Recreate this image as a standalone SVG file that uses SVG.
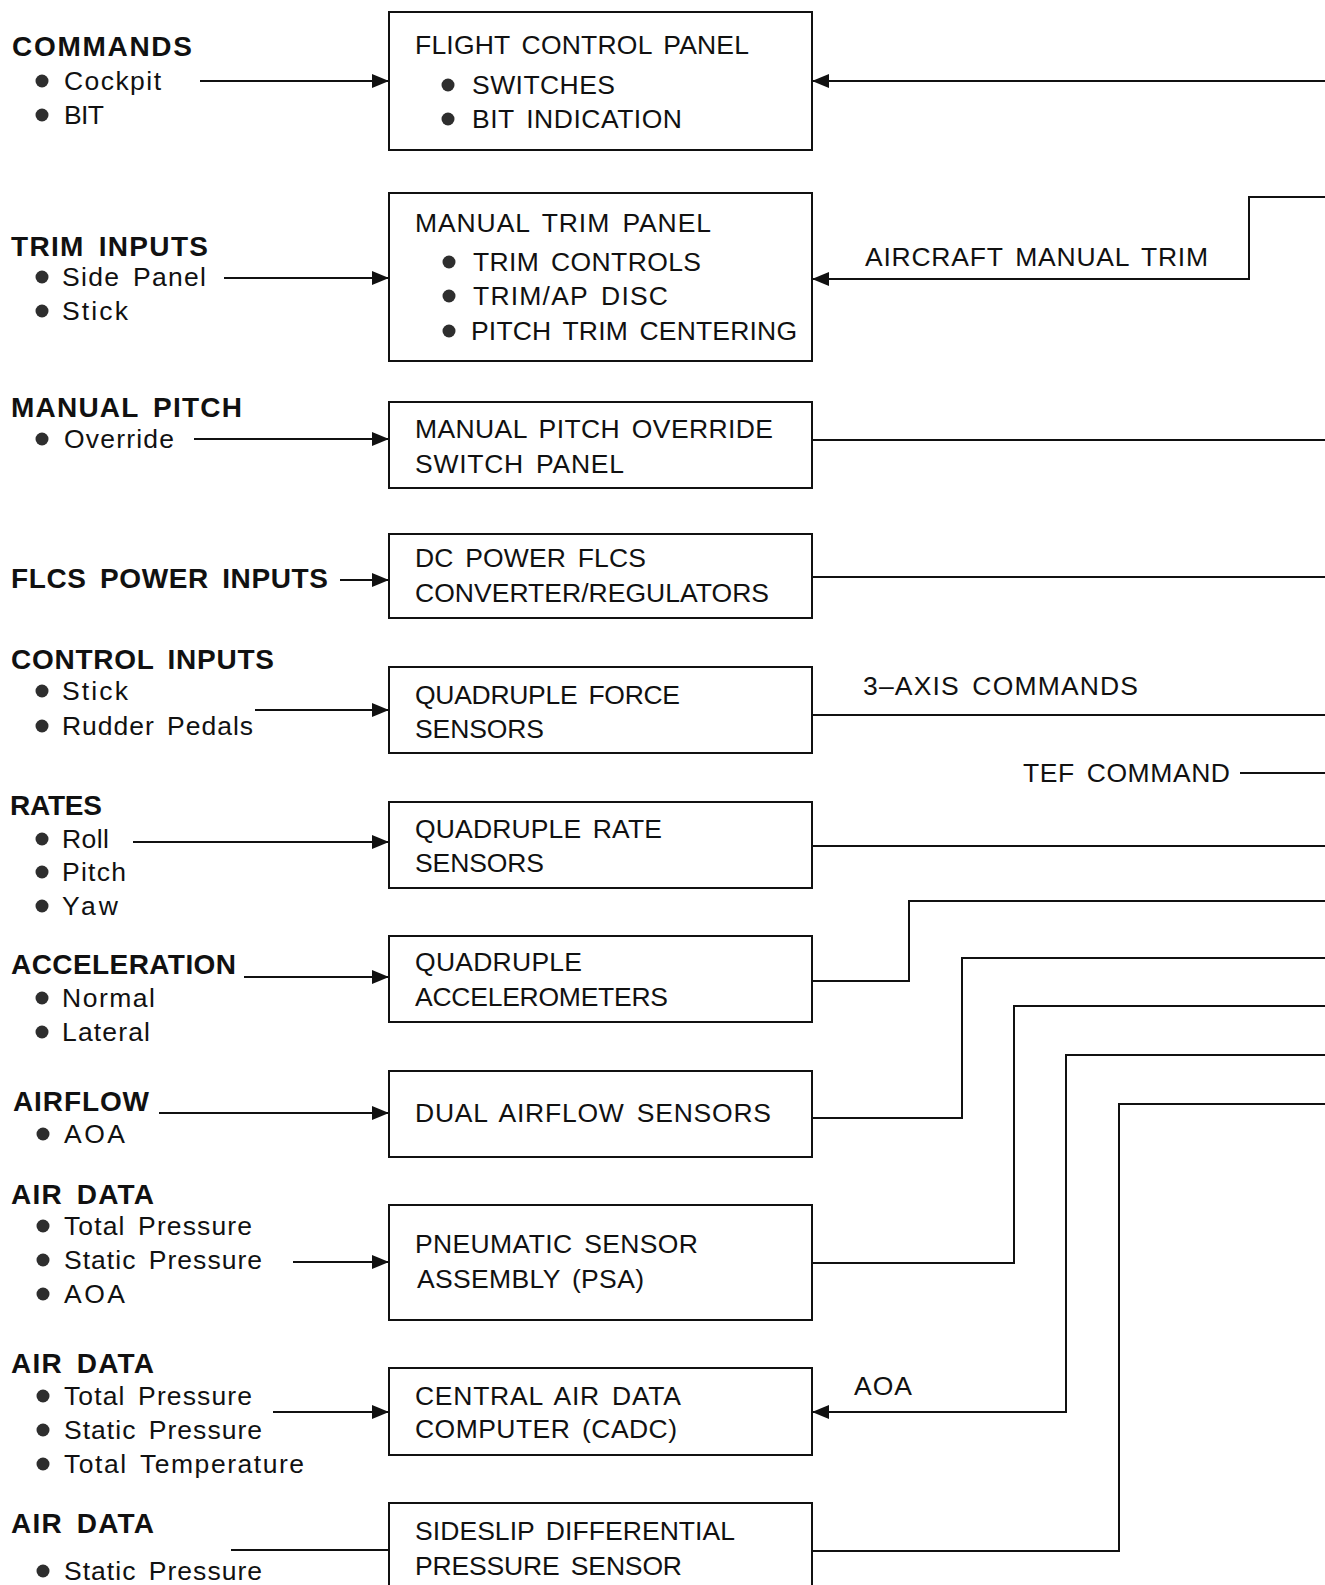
<svg xmlns="http://www.w3.org/2000/svg" width="1325" height="1585" viewBox="0 0 1325 1585">
<style>
text{font-family:"Liberation Sans",Arial,Helvetica,sans-serif;font-size:26.5px;word-spacing:4px;fill:#111}
.h{font-weight:bold;font-size:28px;word-spacing:5px}
.box{fill:#fff;stroke:#111;stroke-width:2}
.ln{fill:none;stroke:#111;stroke-width:2}
.ar{marker-end:url(#ah)}
.b{fill:#2e2e2e}
</style>
<defs>
<marker id="ah" markerUnits="userSpaceOnUse" markerWidth="18" markerHeight="16" refX="17" refY="7" orient="auto">
<path d="M0,0 L17,7 L0,14 z" fill="#111"/>
</marker>
</defs>
<rect width="1325" height="1585" fill="#fff"/>

<g id="connectors">
<path class="ln ar" d="M200,81 H389"/>
<path class="ln ar" d="M224,278 H389"/>
<path class="ln ar" d="M194,439 H389"/>
<path class="ln ar" d="M340,580 H389"/>
<path class="ln ar" d="M255,710 H389"/>
<path class="ln ar" d="M133,842 H389"/>
<path class="ln ar" d="M244,977 H389"/>
<path class="ln ar" d="M159,1113 H389"/>
<path class="ln ar" d="M293,1262 H389"/>
<path class="ln ar" d="M273,1412 H389"/>
<path class="ln" d="M231,1550 H389"/>

<path class="ln ar" d="M1325,81 H812"/>
<path class="ln ar" d="M1325,197 H1249 V279 H812"/>
<path class="ln" d="M812,440 H1325"/>
<path class="ln" d="M812,577 H1325"/>
<path class="ln" d="M812,715 H1325"/>
<path class="ln" d="M1240,773 H1325"/>
<path class="ln" d="M812,846 H1325"/>
<path class="ln" d="M812,981 H909 V901 H1325"/>
<path class="ln" d="M812,1118 H962 V958 H1325"/>
<path class="ln" d="M812,1263 H1014 V1006 H1325"/>
<path class="ln ar" d="M1325,1055 H1066 V1412 H812"/>
<path class="ln" d="M812,1551 H1119 V1104 H1325"/>
<text x="865" y="266" textLength="343">AIRCRAFT MANUAL TRIM</text>
<text x="863" y="695" textLength="275">3–AXIS COMMANDS</text>
<text x="1023" y="782" textLength="207">TEF COMMAND</text>
<text x="854" y="1395" textLength="58">AOA</text>
</g>

<g id="in-commands">
<text class="h" x="12" y="56" textLength="180">COMMANDS</text>
<circle class="b" cx="42" cy="81" r="6.5"/><text x="64" y="90" textLength="97">Cockpit</text>
<circle class="b" cx="42" cy="115" r="6.5"/><text x="64" y="124" textLength="40">BIT</text>
</g>
<g id="in-trim">
<text class="h" x="11" y="256" textLength="197">TRIM INPUTS</text>
<circle class="b" cx="42" cy="277" r="6.5"/><text x="62" y="286" textLength="144">Side Panel</text>
<circle class="b" cx="42" cy="311" r="6.5"/><text x="62" y="320" textLength="66">Stick</text>
</g>
<g id="in-pitch">
<text class="h" x="11" y="417" textLength="231">MANUAL PITCH</text>
<circle class="b" cx="42" cy="439" r="6.5"/><text x="64" y="448" textLength="110">Override</text>
</g>
<g id="in-power">
<text class="h" x="11" y="588" textLength="317">FLCS POWER INPUTS</text>
</g>
<g id="in-control">
<text class="h" x="11" y="669" textLength="263">CONTROL INPUTS</text>
<circle class="b" cx="42" cy="691" r="6.5"/><text x="62" y="700" textLength="66">Stick</text>
<circle class="b" cx="42" cy="726" r="6.5"/><text x="62" y="735" textLength="191">Rudder Pedals</text>
</g>
<g id="in-rates">
<text class="h" x="10" y="815" textLength="92">RATES</text>
<circle class="b" cx="42" cy="839" r="6.5"/><text x="62" y="848" textLength="47">Roll</text>
<circle class="b" cx="42" cy="872" r="6.5"/><text x="62" y="881" textLength="64">Pitch</text>
<circle class="b" cx="42" cy="906" r="6.5"/><text x="62" y="915" textLength="56">Yaw</text>
</g>
<g id="in-accel">
<text class="h" x="11" y="974" textLength="225">ACCELERATION</text>
<circle class="b" cx="42" cy="998" r="6.5"/><text x="62" y="1007" textLength="93">Normal</text>
<circle class="b" cx="42" cy="1032" r="6.5"/><text x="62" y="1041" textLength="88">Lateral</text>
</g>
<g id="in-airflow">
<text class="h" x="13" y="1111" textLength="136">AIRFLOW</text>
<circle class="b" cx="43" cy="1134" r="6.5"/><text x="64" y="1143" textLength="61">AOA</text>
</g>
<g id="in-airdata1">
<text class="h" x="11" y="1204" textLength="143">AIR DATA</text>
<circle class="b" cx="43" cy="1226" r="6.5"/><text x="64" y="1235" textLength="188">Total Pressure</text>
<circle class="b" cx="43" cy="1260" r="6.5"/><text x="64" y="1269" textLength="198">Static Pressure</text>
<circle class="b" cx="43" cy="1294" r="6.5"/><text x="64" y="1303" textLength="61">AOA</text>
</g>
<g id="in-airdata2">
<text class="h" x="11" y="1373" textLength="143">AIR DATA</text>
<circle class="b" cx="43" cy="1396" r="6.5"/><text x="64" y="1405" textLength="188">Total Pressure</text>
<circle class="b" cx="43" cy="1430" r="6.5"/><text x="64" y="1439" textLength="198">Static Pressure</text>
<circle class="b" cx="43" cy="1464" r="6.5"/><text x="64" y="1473" textLength="240">Total Temperature</text>
</g>
<g id="in-airdata3">
<text class="h" x="11" y="1533" textLength="143">AIR DATA</text>
<circle class="b" cx="43" cy="1571" r="6.5"/><text x="64" y="1580" textLength="198">Static Pressure</text>
</g>

<g id="flight-control-panel">
<rect class="box" x="389" y="12" width="423" height="138"/>
<text x="415" y="54" textLength="334">FLIGHT CONTROL PANEL</text>
<circle class="b" cx="448" cy="85" r="6.5"/><text x="472" y="94" textLength="143">SWITCHES</text>
<circle class="b" cx="448" cy="119" r="6.5"/><text x="472" y="128" textLength="210">BIT INDICATION</text>
</g>
<g id="manual-trim-panel">
<rect class="box" x="389" y="193" width="423" height="168"/>
<text x="415" y="232" textLength="296">MANUAL TRIM PANEL</text>
<circle class="b" cx="449" cy="262" r="6.5"/><text x="473" y="271" textLength="228">TRIM CONTROLS</text>
<circle class="b" cx="449" cy="296" r="6.5"/><text x="473" y="305" textLength="195">TRIM/AP DISC</text>
<circle class="b" cx="449" cy="331" r="6.5"/><text x="471" y="340" textLength="326">PITCH TRIM CENTERING</text>
</g>
<g id="manual-pitch-override">
<rect class="box" x="389" y="402" width="423" height="86"/>
<text x="415" y="438" textLength="358">MANUAL PITCH OVERRIDE</text>
<text x="415" y="473" textLength="209">SWITCH PANEL</text>
</g>
<g id="dc-power">
<rect class="box" x="389" y="534" width="423" height="84"/>
<text x="415" y="567" textLength="231">DC POWER FLCS</text>
<text x="415" y="602" textLength="354">CONVERTER/REGULATORS</text>
</g>
<g id="force-sensors">
<rect class="box" x="389" y="667" width="423" height="86"/>
<text x="415" y="704" textLength="265">QUADRUPLE FORCE</text>
<text x="415" y="738" textLength="129">SENSORS</text>
</g>
<g id="rate-sensors">
<rect class="box" x="389" y="802" width="423" height="86"/>
<text x="415" y="838" textLength="247">QUADRUPLE RATE</text>
<text x="415" y="872" textLength="129">SENSORS</text>
</g>
<g id="accelerometers">
<rect class="box" x="389" y="936" width="423" height="86"/>
<text x="415" y="971" textLength="167">QUADRUPLE</text>
<text x="415" y="1006" textLength="253">ACCELEROMETERS</text>
</g>
<g id="airflow-sensors">
<rect class="box" x="389" y="1071" width="423" height="86"/>
<text x="415" y="1122" textLength="356">DUAL AIRFLOW SENSORS</text>
</g>
<g id="psa">
<rect class="box" x="389" y="1205" width="423" height="115"/>
<text x="415" y="1253" textLength="283">PNEUMATIC SENSOR</text>
<text x="417" y="1288" textLength="227">ASSEMBLY (PSA)</text>
</g>
<g id="cadc">
<rect class="box" x="389" y="1368" width="423" height="87"/>
<text x="415" y="1405" textLength="266">CENTRAL AIR DATA</text>
<text x="415" y="1438" textLength="262">COMPUTER (CADC)</text>
</g>
<g id="sideslip">
<rect class="box" x="389" y="1503" width="423" height="100"/>
<text x="415" y="1540" textLength="320">SIDESLIP DIFFERENTIAL</text>
<text x="415" y="1575" textLength="267">PRESSURE SENSOR</text>
</g>
</svg>
